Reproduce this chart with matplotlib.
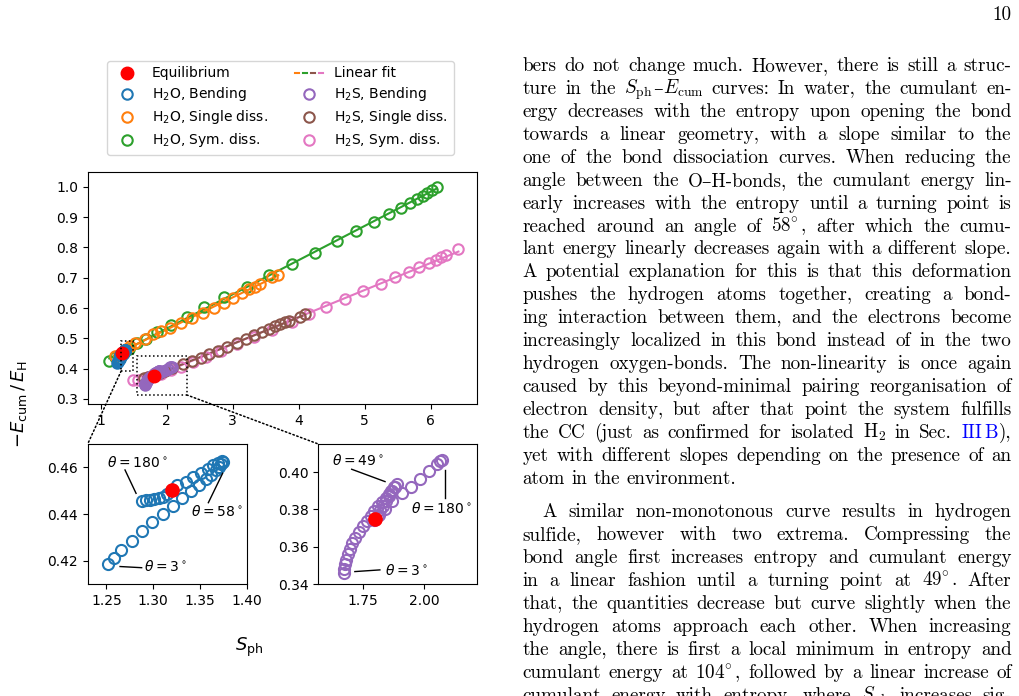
import numpy as np
import matplotlib
matplotlib.use('Agg')
import matplotlib.pyplot as plt
from matplotlib.lines import Line2D
from matplotlib.patches import Rectangle, ConnectionPatch
from matplotlib.legend_handler import HandlerTuple

# ---- data ----
# H2O bending, theta from 3 deg to 180 deg
h2o_bend_s = [1.252, 1.258, 1.266, 1.277, 1.288, 1.299, 1.311, 1.321, 1.331, 1.340,
              1.349, 1.356, 1.362, 1.367, 1.370, 1.373, 1.375,
              1.3733, 1.3690, 1.3644, 1.3583, 1.3512, 1.3430, 1.3348, 1.3252, 1.3202,
              1.3152, 1.3102, 1.3059, 1.3013, 1.2966, 1.2924, 1.2877]
h2o_bend_e = [0.4186, 0.4211, 0.4245, 0.4285, 0.4327, 0.4367, 0.4402, 0.4436, 0.4471, 0.4498,
              0.4525, 0.4549, 0.4569, 0.4587, 0.4603, 0.4613, 0.4622,
              0.4626, 0.4620, 0.4609, 0.4593, 0.4575, 0.4558, 0.4539, 0.4525, 0.4505,
              0.4485, 0.4475, 0.4469, 0.4465, 0.4462, 0.4461, 0.4458]
h2o_single_s = [1.22, 1.27, 1.32, 1.39, 1.45, 1.52, 1.67, 1.79, 1.91, 2.05, 2.21, 2.38, 2.55,
                2.71, 2.87, 3.01, 3.14, 3.25, 3.34, 3.41, 3.59, 3.69]
h2o_single_e = [0.442, 0.446, 0.450, 0.466, 0.476, 0.486, 0.498, 0.513, 0.524, 0.535, 0.550,
                0.567, 0.584, 0.600, 0.618, 0.634, 0.649, 0.662, 0.670, 0.679, 0.701, 0.710]
h2o_sym_s = [1.13, 1.22, 1.32, 1.43, 1.545, 1.68, 1.858, 2.06, 2.30, 2.57, 2.87, 3.21, 3.555,
             3.90, 4.25, 4.58, 4.87, 5.14, 5.37, 5.545, 5.69, 5.80, 5.88, 5.95, 6.02, 6.09]
h2o_sym_e = [0.425, 0.437, 0.450, 0.466, 0.486, 0.498, 0.522, 0.545, 0.571, 0.603, 0.636,
             0.670, 0.708, 0.744, 0.781, 0.820, 0.854, 0.884, 0.910, 0.929, 0.947, 0.959,
             0.970, 0.980, 0.990, 0.999]

# H2S bending, theta from 3 deg to 180 deg
h2s_bend_s = [1.672, 1.674, 1.678, 1.683, 1.690, 1.698, 1.708, 1.720, 1.734, 1.750, 1.766,
              1.782, 1.798, 1.814, 1.829, 1.843, 1.856, 1.867, 1.878, 1.888,
              1.880, 1.870, 1.858, 1.846, 1.834, 1.822, 1.811, 1.800,
              1.797, 1.815, 1.840, 1.870, 1.909, 1.945, 1.985, 2.021, 2.051, 2.067, 2.074]
h2s_bend_e = [0.3463, 0.3484, 0.3507, 0.3532, 0.3560, 0.3589, 0.3619, 0.3650, 0.3680, 0.3710,
              0.3739, 0.3767, 0.3794, 0.3819, 0.3842, 0.3863, 0.3882, 0.3899, 0.3918, 0.3935,
              0.3918, 0.3897, 0.3872, 0.3846, 0.3820, 0.3796, 0.3772, 0.3750,
              0.3745, 0.3772, 0.3805, 0.3845, 0.3890, 0.3922, 0.3963, 0.4004, 0.4041, 0.4058, 0.4065]
h2s_single_s = [1.65, 1.72, 1.80, 1.90, 1.98, 2.075, 2.24, 2.39, 2.515, 2.64, 2.77, 2.91,
                3.07, 3.20, 3.33, 3.45, 3.545, 3.64, 3.71, 3.79, 3.86, 4.02, 4.10]
h2s_single_e = [0.368, 0.371, 0.375, 0.387, 0.393, 0.401, 0.415, 0.426, 0.435, 0.448, 0.458,
                0.470, 0.484, 0.498, 0.510, 0.521, 0.531, 0.540, 0.546, 0.553, 0.558, 0.571, 0.579]
h2s_sym_s = [1.49, 1.56, 1.64, 1.72, 1.80, 1.92, 2.06, 2.22, 2.40, 2.60, 2.82, 3.06, 3.32,
             3.60, 3.90, 4.16, 4.41, 4.70, 4.97, 5.24, 5.46, 5.67, 5.83, 5.97, 6.085, 6.16,
             6.23, 6.42]
h2s_sym_e = [0.362, 0.364, 0.367, 0.371, 0.375, 0.383, 0.394, 0.407, 0.422, 0.440, 0.459,
             0.480, 0.503, 0.528, 0.555, 0.579, 0.604, 0.630, 0.656, 0.679, 0.702, 0.719,
             0.734, 0.748, 0.758, 0.767, 0.775, 0.794]

eq_s = [1.32, 1.80]
eq_e = [0.4505, 0.375]

W, H = 1019, 696
fig = plt.figure(figsize=(W / 100, H / 100), dpi=100)


def box(l, t, r, b):
    return [l / W, 1 - b / H, (r - l) / W, (b - t) / H]


ax = fig.add_axes(box(87.7, 171.7, 476.7, 404))
ins1 = fig.add_axes(box(87.7, 444, 246.7, 584.3))
ins2 = fig.add_axes(box(318.3, 444, 477.3, 584.3))

series = [
    (h2o_sym_s, h2o_sym_e, 'C2', True),
    (h2o_single_s, h2o_single_e, 'C1', True),
    (h2o_bend_s, h2o_bend_e, 'C0', False),
    (h2s_sym_s, h2s_sym_e, 'C6', True),
    (h2s_single_s, h2s_single_e, 'C5', True),
    (h2s_bend_s, h2s_bend_e, 'C4', False),
]
for s, e, c, fit in series:
    ax.plot(s, e, 'o', mfc='none', mec=c, mew=1.5, ms=7.5)
    if fit:
        k, d = np.polyfit(s, e, 1)
        xs = np.array([min(s), max(s)])
        ax.plot(xs, k * xs + d, '-', color=c, lw=1.5, zorder=1.5)
ax.plot(eq_s, eq_e, 'o', color='red', ms=9, zorder=5)

ins1.plot(h2o_bend_s, h2o_bend_e, 'o', mfc='none', mec='C0', mew=1.5, ms=8)
ins1.plot(eq_s[0], eq_e[0], 'o', color='red', ms=9.5, zorder=5)
ins2.plot(h2s_bend_s, h2s_bend_e, 'o', mfc='none', mec='C4', mew=1.5, ms=8)
ins2.plot(eq_s[1], eq_e[1], 'o', color='red', ms=9.5, zorder=5)

ax.set_xlim(0.803, 6.697)
ax.set_ylim(0.2835, 1.0495)
ax.set_xticks([1, 2, 3, 4, 5, 6])
ax.set_yticks([0.3, 0.4, 0.5, 0.6, 0.7, 0.8, 0.9, 1.0])

ins1.set_xlim(1.23, 1.40)
ins1.set_ylim(0.41, 0.47)
ins1.set_xticks([1.25, 1.30, 1.35, 1.40])
ins1.set_yticks([0.42, 0.44, 0.46])

ins2.set_xlim(1.569, 2.217)
ins2.set_ylim(0.34, 0.415)
ins2.set_xticks([1.75, 2.00])
ins2.set_yticks([0.34, 0.36, 0.38, 0.40])

for a in (ax, ins1, ins2):
    a.tick_params(labelsize=10)

# theta annotations
ann = dict(fontsize=10, va='center')
ins1.text(1.2503, 0.4622, r'$\theta = 180^\circ$', ha='left', **ann)
ins1.plot([1.2699, 1.2817], [0.4589, 0.4489], 'k-', lw=1)
ins1.text(1.3403, 0.4412, r'$\theta = 58^\circ$', ha='left', **ann)
ins1.plot([1.359, 1.3743], [0.4449, 0.4575], 'k-', lw=1)
ins1.text(1.2903, 0.4175, r'$\theta = 3^\circ$', ha='left', **ann)
ins1.plot([1.2646, 1.2877], [0.4176, 0.4171], 'k-', lw=1)

ins2.text(1.625, 0.4064, r'$\theta = 49^\circ$', ha='left', **ann)
ins2.plot([1.705, 1.841], [0.4015, 0.3949], 'k-', lw=1)
ins2.text(2.072, 0.3806, r'$\theta = 180^\circ$', ha='center', **ann)
ins2.plot([2.085, 2.085], [0.4011, 0.386], 'k-', lw=1)
ins2.text(1.841, 0.3475, r'$\theta = 3^\circ$', ha='left', **ann)
ins2.plot([1.718, 1.820], [0.3468, 0.3477], 'k-', lw=1)

# zoom boxes and connectors
r1 = (1.31, 0.3924, 0.18, 0.099)
r2 = (1.545, 0.3135, 0.758, 0.1283)
for r in (r1, r2):
    ax.add_patch(Rectangle(r[:2], r[2], r[3], fill=False, ls=':', lw=1.1, ec='k', zorder=6))
for xy, a in (((r1[0], r1[1]), ins1), ((r2[0] + r2[2], r2[1]), ins2)):
    cp = ConnectionPatch(xyA=xy, coordsA=ax.transData, xyB=(0, 1), coordsB=a.transAxes,
                         ls=':', lw=1.1, color='k')
    fig.add_artist(cp)

# legend
fit_h = tuple(Line2D([], [], color=c, lw=1.5) for c in ('C1', 'C2', 'C5', 'C6'))
handles = [
    Line2D([], [], marker='o', color='red', ls='none', ms=9),
    Line2D([], [], marker='o', mfc='none', mec='C0', mew=1.5, ls='none', ms=7.5),
    Line2D([], [], marker='o', mfc='none', mec='C1', mew=1.5, ls='none', ms=7.5),
    Line2D([], [], marker='o', mfc='none', mec='C2', mew=1.5, ls='none', ms=7.5),
    fit_h,
    Line2D([], [], marker='o', mfc='none', mec='C4', mew=1.5, ls='none', ms=7.5),
    Line2D([], [], marker='o', mfc='none', mec='C5', mew=1.5, ls='none', ms=7.5),
    Line2D([], [], marker='o', mfc='none', mec='C6', mew=1.5, ls='none', ms=7.5),
]
labels = ['Equilibrium', r'H$_2$O, Bending', r'H$_2$O, Single diss.', r'H$_2$O, Sym. diss.',
          'Linear fit', r'H$_2$S, Bending', r'H$_2$S, Single diss.', r'H$_2$S, Sym. diss.']
ax.legend(handles, labels, ncol=2, loc='lower center', fontsize=10,
          bbox_to_anchor=(280.5 / W, 1 - 155 / H), bbox_transform=fig.transFigure,
          handler_map={tuple: HandlerTuple(ndivide=None, pad=0.3)},
          labelspacing=0.36, columnspacing=2.0, borderaxespad=0)

fig.text(19 / W, 1 - 404 / H, r'$-E_\mathrm{cum}\,/\,E_\mathrm{H}$', rotation=90,
         ha='center', va='center', fontsize=13)
fig.text(249 / W, 1 - 647 / H, r'$S_\mathrm{ph}$', ha='center', va='center', fontsize=13)

# ---- page text on the right ----
# '|' joins pieces of one word without a gap, '~' marks a blue (link) piece
para1 = [
    "bers do not change much. However, there is still a struc-",
    r"ture in the $S_\mathrm{ph}$|–|$E_\mathrm{cum}$ curves: In water, the cumulant en-",
    "ergy decreases with the entropy upon opening the bond",
    "towards a linear geometry, with a slope similar to the",
    "one of the bond dissociation curves. When reducing the",
    "angle between the O–H-bonds, the cumulant energy lin-",
    "early increases with the entropy until a turning point is",
    r"reached around an angle of 58$\!^\circ$, after which the cumu-",
    "lant energy linearly decreases again with a different slope.",
    "A potential explanation for this is that this deformation",
    "pushes the hydrogen atoms together, creating a bond-",
    "ing interaction between them, and the electrons become",
    "increasingly localized in this bond instead of in the two",
    "hydrogen oxygen-bonds. The non-linearity is once again",
    "caused by this beyond-minimal pairing reorganisation of",
    "electron density, but after that point the system fulfills",
    r"the CC (just as confirmed for isolated H$_2$ in Sec. ~$\mathrm{III\,B}$|),",
    "yet with different slopes depending on the presence of an",
    "atom in the environment.",
]
para2 = [
    "A similar non-monotonous curve results in hydrogen",
    "sulfide, however with two extrema. Compressing the",
    "bond angle first increases entropy and cumulant energy",
    r"in a linear fashion until a turning point at 49$\!^\circ$. After",
    "that, the quantities decrease but curve slightly when the",
    "hydrogen atoms approach each other. When increasing",
    "the angle, there is first a local minimum in entropy and",
    r"cumulant energy at 104$\!^\circ$, followed by a linear increase of",
    r"cumulant energy with entropy, where $S_\mathrm{ph}$ increases sig-",
]

txt_kw = dict(fontsize=13.75, family=['cmr10', 'DejaVu Serif'], math_fontfamily='cm',
              va='baseline', ha='left')
renderer = fig.canvas.get_renderer()
x_left, x_right = 522.7, 1011.5


def put_line(line, y, x0, justify):
    words = []
    for w in line.split(' '):
        segs = []
        for s in w.split('|'):
            col = 'black'
            if s.startswith('~'):
                s, col = s[1:], '#0000ff'
            segs.append(fig.text(0, 1 - y / H, s, color=col, **txt_kw))
        words.append(segs)
    widths = [[t.get_window_extent(renderer).width for t in segs] for segs in words]
    total = sum(sum(ws) for ws in widths)
    if justify and len(words) > 1:
        gap = (x_right - x0 - total) / (len(words) - 1)
    else:
        gap = 13.75 * 100 / 72 * 0.333
    x = x0
    for segs, ws in zip(words, widths):
        for t, wd in zip(segs, ws):
            t.set_x(x / W)
            x += wd
        x += gap


for i, line in enumerate(para1):
    put_line(line, 71.0 + 22.93 * i, x_left, i < len(para1) - 1)
for i, line in enumerate(para2):
    put_line(line, 517.4 + 22.95 * i, x_left + (19.6 if i == 0 else 0), True)

fig.text(1011.5 / W, 1 - 20.5 / H, '10', ha='right', va='baseline',
         fontsize=13.75, family=['cmr10', 'DejaVu Serif'])

fig.savefig('out.png', dpi=100)
